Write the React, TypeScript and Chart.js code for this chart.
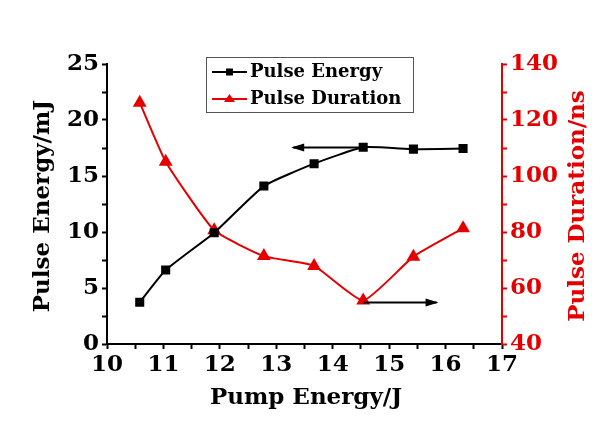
import React, { useEffect, useRef } from "react";
import { Chart, registerables } from "chart.js";

Chart.register(...registerables);

const pumpEnergy = [10.58, 11.04, 11.9, 12.78, 13.67, 14.54, 15.43, 16.31];
const pulseEnergy = [3.72, 6.6, 9.94, 14.1, 16.1, 17.56, 17.4, 17.45];
const pulseDuration = [126.2, 105.1, 80.6, 71.4, 67.9, 55.5, 71.2, 81.3];

const xTitle = "Pump Energy/J";
const yTitle = "Pulse Energy/mJ";
const y1Title = "Pulse Duration/ns";
const seriesNames = ["Pulse Energy", "Pulse Duration"];

const RED = "rgb(228,0,0)";
const BLACK = "#000";
const FONT = "'DejaVu Serif', serif";

const overlay = {
  id: "overlay",
  afterDraw(chart: any) {
    const ctx = chart.ctx;
    const x = chart.scales.x;
    const y = chart.scales.y;
    const y1 = chart.scales.y1;
    ctx.save();
    // axis titles
    ctx.font = `bold 23px ${FONT}`;
    ctx.textAlign = "center";
    ctx.textBaseline = "middle";
    ctx.fillStyle = BLACK;
    ctx.fillText(xTitle, 306, 398);
    ctx.save();
    ctx.translate(43, 206);
    ctx.rotate(-Math.PI / 2);
    ctx.fillText(yTitle, 0, 0);
    ctx.restore();
    ctx.save();
    ctx.fillStyle = RED;
    ctx.translate(578, 206);
    ctx.rotate(-Math.PI / 2);
    ctx.fillText(y1Title, 0, 0);
    ctx.restore();

    // arrows
    const arrow = (xa: number, xb: number, py: number) => {
      ctx.strokeStyle = BLACK;
      ctx.fillStyle = BLACK;
      ctx.lineWidth = 2;
      ctx.beginPath();
      ctx.moveTo(xa, py);
      ctx.lineTo(xb, py);
      ctx.stroke();
      const dir = xb > xa ? 1 : -1;
      ctx.beginPath();
      ctx.moveTo(xb + dir * 2, py);
      ctx.lineTo(xb - dir * 11, py - 4);
      ctx.lineTo(xb - dir * 11, py + 4);
      ctx.closePath();
      ctx.fill();
    };
    arrow(x.getPixelForValue(14.54), x.getPixelForValue(13.3), y.getPixelForValue(17.55));
    arrow(x.getPixelForValue(14.54), x.getPixelForValue(15.84), y1.getPixelForValue(54.8));

    // legend
    const bx = 206, by = 57, bw = 207, bh = 55;
    ctx.fillStyle = "#fff";
    ctx.fillRect(bx, by, bw, bh);
    ctx.strokeStyle = "#555";
    ctx.lineWidth = 1;
    ctx.strokeRect(bx + 0.5, by + 0.5, bw, bh);
    const rows = [
      { color: BLACK, yy: 72, shape: "rect" },
      { color: RED, yy: 99, shape: "tri" },
    ];
    rows.forEach((r, i) => {
      ctx.strokeStyle = r.color;
      ctx.fillStyle = r.color;
      ctx.lineWidth = 2;
      ctx.beginPath();
      ctx.moveTo(212, r.yy);
      ctx.lineTo(247, r.yy);
      ctx.stroke();
      if (r.shape === "rect") {
        ctx.fillRect(226, r.yy - 3.5, 7, 7);
      } else {
        ctx.beginPath();
        ctx.moveTo(229.5, r.yy - 5);
        ctx.lineTo(235, r.yy + 3);
        ctx.lineTo(224, r.yy + 3);
        ctx.closePath();
        ctx.fill();
      }
      ctx.fillStyle = BLACK;
      ctx.font = `bold 18px ${FONT}`;
      ctx.textAlign = "left";
      ctx.textBaseline = "middle";
      ctx.fillText(seriesNames[i], 250, r.yy);
    });
    ctx.restore();
  },
};

export default function App() {
  const ref = useRef<HTMLCanvasElement>(null);
  useEffect(() => {
    const chart = new Chart(ref.current as HTMLCanvasElement, {
      type: "line",
      data: {
        datasets: [
          {
            label: seriesNames[0],
            data: pumpEnergy.map((v, i) => ({ x: v, y: pulseEnergy[i] })),
            borderColor: BLACK,
            backgroundColor: BLACK,
            borderWidth: 2,
            pointStyle: "rect",
            pointRadius: 5,
            tension: 0.15,
            yAxisID: "y",
          },
          {
            label: seriesNames[1],
            data: pumpEnergy.map((v, i) => ({ x: v, y: pulseDuration[i] })),
            borderColor: RED,
            backgroundColor: RED,
            borderWidth: 2,
            pointStyle: "triangle",
            pointRadius: 6,
            tension: 0.15,
            yAxisID: "y1",
          },
        ],
      },
      options: {
        animation: false,
        responsive: true,
        maintainAspectRatio: false,
        layout: { padding: { top: 64, left: 0, right: 0, bottom: 0 } },
        plugins: { legend: { display: false }, tooltip: { enabled: false } },
        scales: {
          x: {
            type: "linear",
            min: 10,
            max: 17,
            afterFit: (s: any) => { s.height = 95; },
            ticks: {
              stepSize: 0.5,
              autoSkip: false,
              maxRotation: 0,
              padding: 2,
              color: BLACK,
              font: { family: FONT, size: 23, weight: "bold" },
              callback: (v: any) => (Number.isInteger(v) ? String(v) : ""),
            },
            grid: { display: true, drawOnChartArea: false, drawTicks: true, tickLength: 5, color: BLACK, tickWidth: 2 },
            border: { display: true, color: BLACK, width: 2 },
          },
          y: {
            position: "left",
            min: 0,
            max: 25,
            afterFit: (s: any) => { s.width = 107; },
            ticks: {
              stepSize: 2.5,
              autoSkip: false,
              padding: 3,
              color: BLACK,
              font: { family: FONT, size: 23, weight: "bold" },
              callback: (v: any) => (v % 5 === 0 ? String(v) : ""),
            },
            grid: { display: true, drawOnChartArea: false, drawTicks: true, tickLength: 5, color: BLACK, tickWidth: 2 },
            border: { display: true, color: BLACK, width: 2 },
          },
          y1: {
            position: "right",
            min: 40,
            max: 140,
            afterFit: (s: any) => { s.width = 114; },
            ticks: {
              stepSize: 10,
              autoSkip: false,
              padding: 3,
              color: RED,
              font: { family: FONT, size: 23, weight: "bold" },
              callback: (v: any) => (v % 20 === 0 ? String(v) : ""),
            },
            grid: { display: true, drawOnChartArea: false, drawTicks: true, tickLength: 5, color: RED, tickWidth: 2 },
            border: { display: true, color: RED, width: 2 },
          },
        },
      } as any,
      plugins: [overlay],
    });
    return () => chart.destroy();
  }, []);
  return (
    <div style={{ position: "fixed", left: 0, top: 0, width: 616, height: 439, background: "#fff" }}>
      <canvas ref={ref} />
    </div>
  );
}
